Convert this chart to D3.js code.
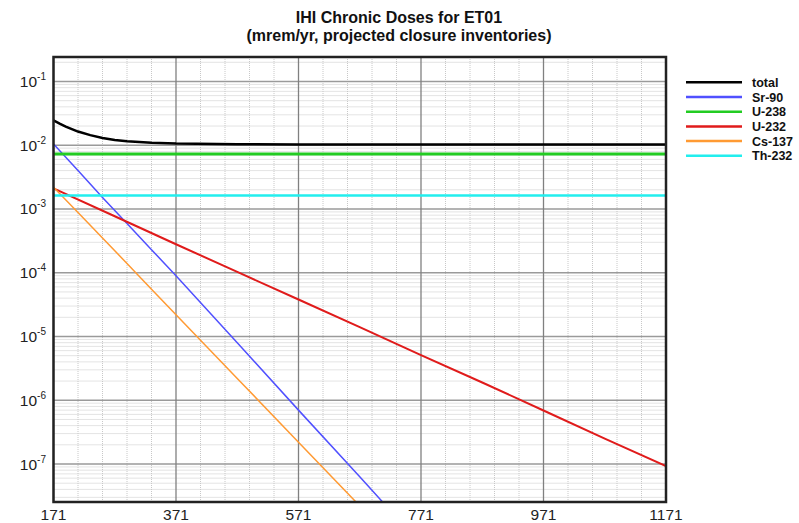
<!DOCTYPE html>
<html>
<head>
<meta charset="utf-8">
<script src="https://cdn.jsdelivr.net/npm/d3@7"></script>
<style>
  html, body { margin: 0; padding: 0; background: #fff; }
  svg { display: block; font-family: "Liberation Sans", Arial, Helvetica, sans-serif; }
</style>
</head>
<body>
<svg id="chart" width="799" height="523"></svg>
<script>
// ---- Data ----
const titleLines = ["IHI Chronic Doses for ET01", "(mrem/yr, projected closure inventories)"];

const xTicks = [171, 371, 571, 771, 971, 1171];
const yTickExps = [-1, -2, -3, -4, -5, -6, -7];

const seriesNames = ["total", "Sr-90", "U-238", "U-232", "Cs-137", "Th-232"];
const seriesColors = ["#000000", "#5050ff", "#22cc22", "#e01b1b", "#ff9a33", "#22eeee"];

const totalYears = [171, 181, 191, 201, 211, 231, 251, 271, 291, 331, 371, 471, 571, 771, 971, 1171];
const totalVals  = [0.0245, 0.0218, 0.0196, 0.0179, 0.0164, 0.0144, 0.0130, 0.0121, 0.0115, 0.0109, 0.0106, 0.0104, 0.0103, 0.0103, 0.0103, 0.0103];

const sr90Years = [171, 211, 251, 291, 331, 371, 471, 571, 671, 771];
const sr90Vals  = [1.05e-2, 4.0e-3, 1.52e-3, 5.9e-4, 2.3e-4, 9.0e-5, 8.0e-6, 7.0e-7, 6.3e-8, 5.5e-9];

const u238Years = [171, 1171];
const u238Vals  = [7.3e-3, 7.3e-3];

const u232Years = [171, 271, 371, 471, 571, 671, 771, 871, 971, 1071, 1171];
const u232Vals  = [2.1e-3, 7.7e-4, 2.8e-4, 1.03e-4, 3.8e-5, 1.4e-5, 5.1e-6, 1.9e-6, 6.9e-7, 2.5e-7, 9.3e-8];

const cs137Years = [171, 211, 251, 291, 331, 371, 471, 571, 671, 771];
const cs137Vals  = [2.2e-3, 8.8e-4, 3.5e-4, 1.4e-4, 5.5e-5, 2.2e-5, 2.2e-6, 2.2e-7, 2.2e-8, 2.2e-9];

const th232Years = [171, 1171];
const th232Vals  = [1.63e-3, 1.63e-3];

const seriesYears = [totalYears, sr90Years, u238Years, u232Years, cs137Years, th232Years];
const seriesVals  = [totalVals, sr90Vals, u238Vals, u232Vals, cs137Vals, th232Vals];
const seriesWidths = [2.5, 1.5, 3, 2, 1.5, 2.5];

// ---- Layout ----
const svg = d3.select("#chart");
const L = 53.5, R = 666, T = 57, B = 502;

const x = d3.scaleLinear().domain([171, 1171]).range([L, R]);
const y = d3.scaleLog().domain([Math.pow(10, -7.596), Math.pow(10, -0.616)]).range([B, T]);

svg.append("rect").attr("width", 799).attr("height", 523).attr("fill", "#fff");

// clip
svg.append("defs").append("clipPath").attr("id", "clip")
  .append("rect").attr("x", L).attr("y", T).attr("width", R - L).attr("height", B - T);

const grid = svg.append("g");

// minor horizontal grid (2..9 x each decade)
const yMinor = [];
for (let e = -8; e <= 0; e++) {
  for (let k = 2; k <= 9; k++) {
    const v = k * Math.pow(10, e);
    if (v > y.domain()[0] && v < y.domain()[1]) yMinor.push(v);
  }
}
grid.selectAll(".ymin").data(yMinor).join("line")
  .attr("x1", L).attr("x2", R)
  .attr("y1", d => y(d)).attr("y2", d => y(d))
  .attr("stroke", "#c8c8c8").attr("stroke-width", 1).attr("stroke-dasharray", "1,1");

// minor vertical grid every 40
const xMinor = d3.range(171, 1171, 40).filter(v => (v - 171) % 200 !== 0);
grid.selectAll(".xmin").data(xMinor).join("line")
  .attr("x1", d => x(d)).attr("x2", d => x(d))
  .attr("y1", T).attr("y2", B)
  .attr("stroke", "#c8c8c8").attr("stroke-width", 1).attr("stroke-dasharray", "1,1");

// major horizontal grid (decades)
grid.selectAll(".ymaj").data(yTickExps).join("line")
  .attr("x1", L).attr("x2", R)
  .attr("y1", d => y(Math.pow(10, d))).attr("y2", d => y(Math.pow(10, d)))
  .attr("stroke", "#9a9a9a").attr("stroke-width", 1.5);

// major vertical grid
grid.selectAll(".xmaj").data(xTicks).join("line")
  .attr("x1", d => x(d)).attr("x2", d => x(d))
  .attr("y1", T).attr("y2", B)
  .attr("stroke", "#808080").attr("stroke-width", 1.3);

// series lines
const lineGen = d3.line().x(d => x(d[0])).y(d => y(d[1]));
const plot = svg.append("g").attr("clip-path", "url(#clip)");
seriesNames.forEach((name, i) => {
  const pts = seriesYears[i].map((yr, j) => [yr, seriesVals[i][j]]);
  plot.append("path")
    .datum(pts)
    .attr("d", lineGen)
    .attr("fill", "none")
    .attr("stroke", seriesColors[i])
    .attr("stroke-width", seriesWidths[i]);
});

// frame
svg.append("rect").attr("x", L).attr("y", T).attr("width", R - L).attr("height", B - T)
  .attr("fill", "none").attr("stroke", "#222").attr("stroke-width", 2.5);

// x tick labels
svg.append("g").selectAll("text").data(xTicks).join("text")
  .attr("x", d => x(d)).attr("y", 520)
  .attr("text-anchor", "middle")
  .attr("font-size", 15.5).attr("fill", "#222")
  .text(d => d);

// y tick labels with superscripts
const yl = svg.append("g").selectAll("text").data(yTickExps).join("text")
  .attr("x", 46).attr("y", d => y(Math.pow(10, d)) + 5.5)
  .attr("text-anchor", "end")
  .attr("font-size", 15.5).attr("fill", "#222");
yl.append("tspan").text("10");
yl.append("tspan").attr("font-size", 10).attr("dy", -7).text(d => d);

// title
svg.append("g").selectAll("text").data(titleLines).join("text")
  .attr("x", 399).attr("y", (d, i) => 22.5 + i * 18.5)
  .attr("text-anchor", "middle")
  .attr("font-size", 16).attr("font-weight", "bold").attr("fill", "#111")
  .text(d => d);

// legend
const leg = svg.append("g");
seriesNames.forEach((name, i) => {
  const ly = 82.3 + i * 14.7;
  leg.append("line").attr("x1", 686).attr("x2", 742).attr("y1", ly).attr("y2", ly)
    .attr("stroke", seriesColors[i]).attr("stroke-width", 2.5);
  leg.append("text").attr("x", 752).attr("y", ly + 4.5)
    .attr("font-size", 12.5).attr("font-weight", "bold").attr("fill", "#111")
    .text(name);
});
</script>
</body>
</html>
